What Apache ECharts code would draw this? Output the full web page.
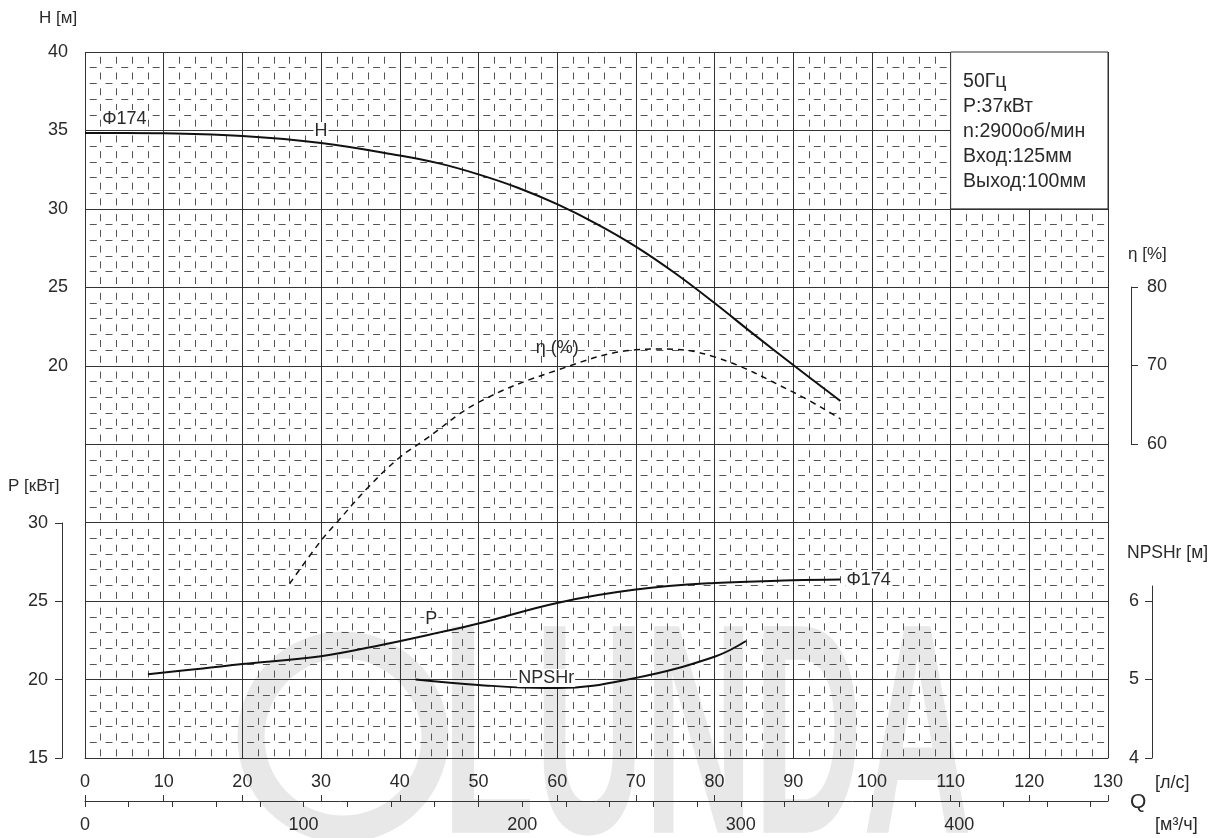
<!DOCTYPE html>
<html><head><meta charset="utf-8">
<script src="https://cdn.jsdelivr.net/npm/echarts@6/dist/echarts.min.js"></script>
<style>html,body{margin:0;padding:0;background:#fff}#c{width:1221px;height:838px}</style>
</head><body><div id="c"></div>
<script>
// ---- data ----
const qH   = [0, 5, 10, 20, 30, 40, 45, 50, 55, 60, 65, 70, 75, 80, 85, 90, 96];
const H    = [34.84, 34.84, 34.82, 34.65, 34.2, 33.4, 32.9, 32.2, 31.35, 30.3, 29.05, 27.6, 25.9, 24.0, 22.0, 20.05, 17.75];
const qEta = [26, 30, 32, 36, 40, 43, 50, 60, 70, 73, 80, 90, 96];
const eta  = [42.2, 47.7, 50.0, 54.5, 58.3, 60.4, 65.3, 69.4, 72.0, 72.1, 71.1, 66.6, 63.2];
const qP   = [8, 15, 20, 30, 37.5, 44, 50, 60, 70, 80, 90, 96];
const P    = [20.35, 20.72, 21.0, 21.5, 22.2, 22.9, 23.58, 24.9, 25.75, 26.17, 26.34, 26.39];
const qN   = [42, 50, 58.6, 60, 70, 80, 84];
const NPSH = [5.0, 4.93, 4.89, 4.89, 5.02, 5.29, 5.49];
const lsTicks   = [0,10,20,30,40,50,60,70,80,90,100,110,120,130];
const m3Ticks   = [0,20,40,60,80,100,120,140,160,180,200,220,240,260,280,300,320,340,360,380,400,420,440,460];
const m3Labels  = [0,100,200,300,400];
const hLabels   = [20,25,30,35,40];
const npshTicks = [4,5,6];
const infoLines = ['50Гц','P:37кВт','n:2900об/мин','Вход:125мм','Выход:100мм'];

const FONT = '"Liberation Sans", Arial, sans-serif';
const TXT = '#2a2a2a';
const FS = 18;
const pair = (xs, ys) => xs.map((x, i) => [x, ys[i]]);
// attach labels to chosen points (by Q value)
const withLabels = (xs, ys, labels) => pair(xs, ys).map(p => {
  const l = labels[p[0]];
  return l ? {value: p, label: Object.assign({show: true, fontFamily: FONT, fontSize: FS, color: TXT}, l)} : p;
});

const chart = echarts.init(document.getElementById('c'), null, {renderer: 'canvas'});
const hiddenX = gi => ({gridIndex: gi, type: 'value', min: 0, max: 130, show: false});
const minorStyle = {show: true, lineStyle: {color: '#555', width: 1, type: [7, 8.74], dashOffset: 11}};
const lineBase = {type: 'line', smooth: 0.4, showSymbol: true, symbol: 'circle', symbolSize: 0.01,
                  itemStyle: {color: 'rgba(0,0,0,0)'}, z: 5, label: {show: false}, emphasis: {disabled: true}};
const option = {
  animation: false,
  backgroundColor: '#fff',
  textStyle: {fontFamily: FONT},
  grid: [
    {left: 85, right: 113, top: 52, bottom: 80},
    {left: 85, right: 113, top: 287, bottom: 394},
    {left: 85, right: 113, top: 523, bottom: 80},
    {left: 85, right: 113, top: 586, bottom: 80}
  ],
  xAxis: [
    {gridIndex: 0, type: 'value', min: 0, max: 130, interval: 10,
     axisLine: {show: true, onZero: false, lineStyle: {color: '#333', width: 1}}, axisTick: {show: false},
     axisLabel: {margin: 15, fontSize: FS, color: TXT, fontFamily: FONT},
     splitLine: {show: true, lineStyle: {color: '#333', width: 1}},
     minorTick: {show: false, splitNumber: 5},
     minorSplitLine: minorStyle},
    hiddenX(1), hiddenX(2), hiddenX(3),
    {gridIndex: 0, type: 'value', min: 0, max: 468, position: 'bottom', offset: 43,
     axisLine: {show: true, onZero: false, lineStyle: {color: '#333', width: 1}},
     axisTick: {show: true, inside: false, length: 6, customValues: m3Ticks, lineStyle: {color: '#333'}},
     axisLabel: {show: true, margin: 15, fontSize: FS, color: TXT, fontFamily: FONT, customValues: m3Labels},
     splitLine: {show: false}},
    {gridIndex: 0, type: 'value', min: 0, max: 130, position: 'bottom', offset: 43,
     axisLine: {show: false, onZero: false},
     axisTick: {show: true, inside: true, length: 6, customValues: lsTicks, lineStyle: {color: '#333'}},
     axisLabel: {show: false}, splitLine: {show: false}}
  ],
  yAxis: [
    {gridIndex: 0, type: 'value', min: -5, max: 40, interval: 5, position: 'left',
     axisLine: {show: false, onZero: false}, axisTick: {show: false},
     axisLabel: {margin: 17, fontSize: FS, color: TXT, fontFamily: FONT, customValues: hLabels},
     splitLine: {show: true, lineStyle: {color: '#333', width: 1}},
     minorTick: {show: false, splitNumber: 5},
     minorSplitLine: minorStyle},
    {gridIndex: 1, type: 'value', min: 60, max: 80, interval: 10, position: 'right', offset: 23,
     axisLine: {show: true, onZero: false, lineStyle: {color: '#333'}}, axisTick: {show: true, length: 7, lineStyle: {color: '#333'}},
     axisLabel: {margin: 16, fontSize: FS, color: TXT, fontFamily: FONT}, splitLine: {show: false}},
    {gridIndex: 2, type: 'value', min: 15, max: 30, interval: 5, position: 'left', offset: 23,
     axisLine: {show: true, onZero: false, lineStyle: {color: '#333'}}, axisTick: {show: true, length: 7, lineStyle: {color: '#333'}},
     axisLabel: {margin: 14, fontSize: FS, color: TXT, fontFamily: FONT}, splitLine: {show: false}},
    {gridIndex: 3, type: 'value', min: 4, max: 6.19, position: 'right', offset: 44,
     axisLine: {show: true, onZero: false, lineStyle: {color: '#333'}},
     axisTick: {show: true, inside: true, length: 7, customValues: npshTicks, lineStyle: {color: '#333'}},
     axisLabel: {inside: true, margin: 13, fontSize: FS, color: TXT, fontFamily: FONT, customValues: npshTicks},
     splitLine: {show: false}}
  ],
  graphic: [
    // watermark
    {type: 'circle', z: -10, silent: true, shape: {cx: 343, cy: 737, r: 92}, style: {fill: 'none', stroke: '#e8e8e8', lineWidth: 27}},
    {type: 'text', z: -10, silent: true, x: 442, y: 600, scaleX: 0.505,
     style: {text: 'LUNDA', font: 'bold 300px "Liberation Sans", Arial, sans-serif', fill: '#e8e8e8', textVerticalAlign: 'top'}},
    // axis names
    {type: 'text', x: 39, y: 18, style: {text: 'H [м]', font: '17px ' + FONT, fill: TXT, textVerticalAlign: 'middle'}},
    {type: 'text', x: 8, y: 486, style: {text: 'P [кВт]', font: '17px ' + FONT, fill: TXT, textVerticalAlign: 'middle'}},
    {type: 'text', x: 1128, y: 254, style: {text: 'η [%]', font: '17px ' + FONT, fill: TXT, textVerticalAlign: 'middle'}},
    {type: 'text', x: 1127, y: 553, style: {text: 'NPSHr [м]', font: '17.5px ' + FONT, fill: TXT, textVerticalAlign: 'middle'}},
    {type: 'text', x: 1155, y: 783, style: {text: '[л/с]', font: '18px ' + FONT, fill: TXT, textVerticalAlign: 'middle'}},
    {type: 'text', x: 1130, y: 802, style: {text: 'Q', font: '21px ' + FONT, fill: TXT, textVerticalAlign: 'middle'}},
    {type: 'text', x: 1155, y: 825, style: {text: '[м³/ч]', font: '18px ' + FONT, fill: TXT, textVerticalAlign: 'middle'}}
  ],
  series: [
    Object.assign({}, lineBase, {name: 'H', xAxisIndex: 0, yAxisIndex: 0,
     lineStyle: {color: '#111', width: 2},
     data: withLabels(qH, H, {
       5: {formatter: 'Φ174', position: 'top', distance: 5, backgroundColor: '#fff', padding: [0, 1]},
       30: {formatter: 'H', position: 'top', distance: 3, backgroundColor: '#fff', padding: [0, 1]}}),
     markArea: {silent: true, z: 10,
       itemStyle: {color: '#fff', borderColor: '#333', borderWidth: 1},
       label: {show: true, position: 'insideTopLeft', distance: 0, padding: [18, 0, 0, 13],
               formatter: infoLines.join('\n'), fontFamily: FONT, fontSize: 19.5, lineHeight: 25, color: TXT},
       data: [[{coord: [110, 40]}, {coord: [130, 30]}]]}}),
    Object.assign({}, lineBase, {name: 'eta', xAxisIndex: 1, yAxisIndex: 1, clip: false,
     lineStyle: {color: '#111', width: 1.5, type: [6, 5]},
     data: withLabels(qEta, eta, {60: {formatter: 'η (%)', position: 'top', distance: 13}})}),
    Object.assign({}, lineBase, {name: 'P', xAxisIndex: 2, yAxisIndex: 2, clip: false,
     lineStyle: {color: '#111', width: 2},
     data: withLabels(qP, P, {
       44: {formatter: 'P', position: 'top', distance: 6, backgroundColor: '#fff', padding: [0, 1]},
       96: {formatter: 'Φ174', position: 'right', distance: 5, backgroundColor: '#fff', padding: [0, 1]}})}),
    Object.assign({}, lineBase, {name: 'NPSHr', xAxisIndex: 3, yAxisIndex: 3, clip: false,
     lineStyle: {color: '#111', width: 2},
     data: withLabels(qN, NPSH, {58.6: {formatter: 'NPSHr', position: 'top', distance: 1, backgroundColor: '#fff', padding: [0, 1]}})})
  ]
};
chart.setOption(option);
</script></body></html>
